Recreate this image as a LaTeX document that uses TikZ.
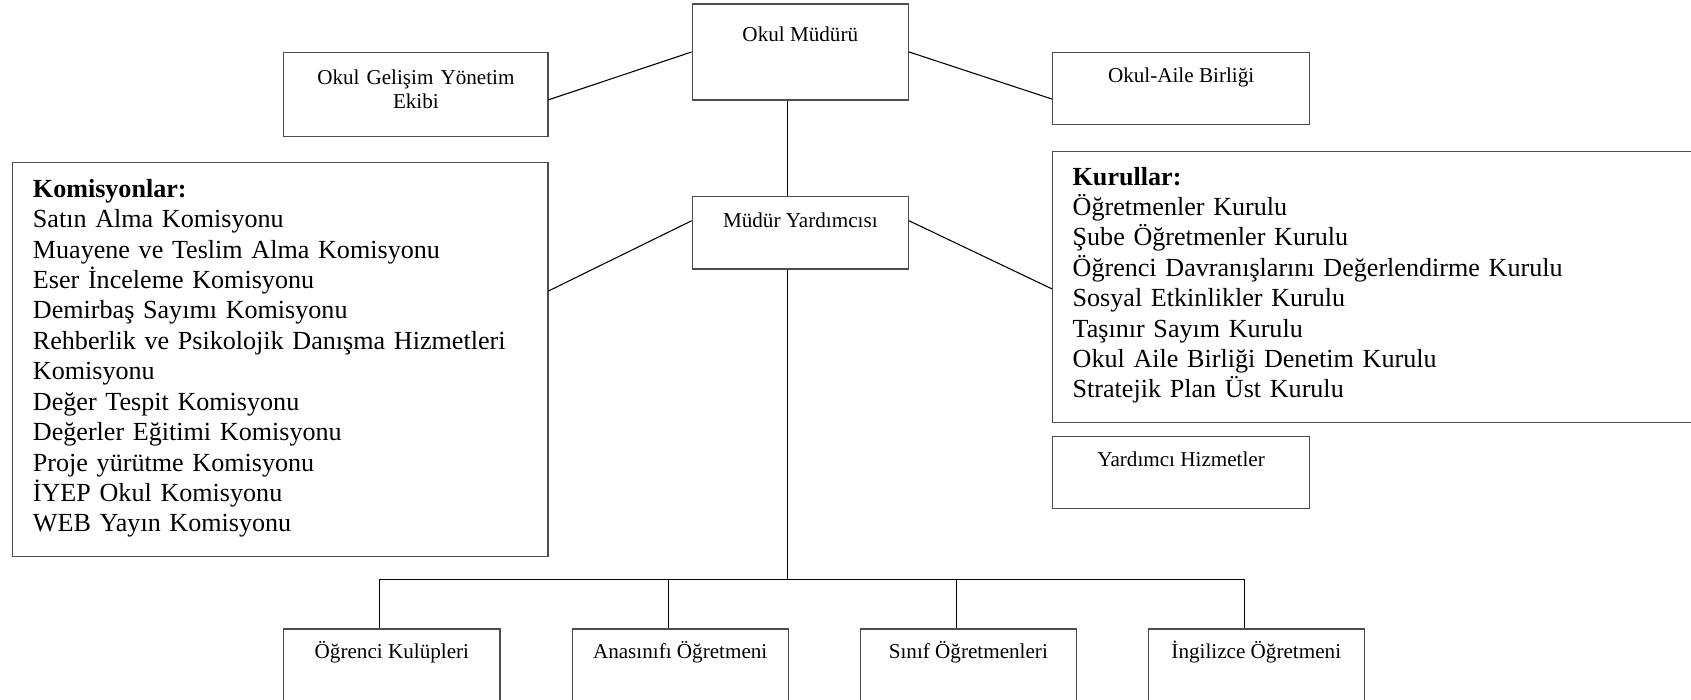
\documentclass[tikz,border=0pt]{standalone}
\usepackage{fontspec}
\setmainfont{Liberation Serif}
\newcommand{\boxfont}{\fontsize{19.6pt}{22pt}\selectfont}
\newcommand{\listfont}{\fontsize{24.2pt}{28.2pt}\selectfont}

\begin{document}
\begin{tikzpicture}
  [x=1pt, y=-1pt,
   unit/.style = {draw=black!70, line width=1.1pt, inner sep=0pt,
                  anchor=north west, font=\boxfont},
   roster/.style = {unit, font=\listfont, align=left, inner xsep=18.6pt},
   link/.style = {line width=1pt}]

\useasboundingbox (0,0) rectangle (1568,649);
\clip (0,0) rectangle (1568,649);

% Top row
\node[unit, minimum width=200.3pt, text height=35pt, text depth=54pt]
  (head) at (641.4,3.1) {Okul Müdürü};
\node[unit, text width=244.8pt, align=center, text height=30.1pt, text depth=48.1pt]
  (team) at (262.7,47.9) {Okul Gelişim Yönetim\\Ekibi};
\node[unit, minimum width=238.3pt, text height=27.8pt, text depth=39pt]
  (family) at (975.5,47.9) {Okul-Aile Birliği};

% Middle row
\node[unit, minimum width=200.3pt, text height=28.8pt, text depth=38.6pt]
  (deputy) at (641.4,181.4) {Müdür Yardımcısı};
\node[roster, text width=458.9pt, text height=31.9pt, text depth=333.2pt]
  (commissions) at (11.4,150.5)
  {\textbf{Komisyonlar:}\\
   Satın Alma Komisyonu\\
   Muayene ve Teslim Alma Komisyonu\\
   Eser İnceleme Komisyonu\\
   Demirbaş Sayımı Komisyonu\\
   Rehberlik ve Psikolojik Danışma Hizmetleri\\
   Komisyonu\\
   Değer Tespit Komisyonu\\
   Değerler Eğitimi Komisyonu\\
   Proje yürütme Komisyonu\\
   İYEP Okul Komisyonu\\
   WEB Yayın Komisyonu};
\node[roster, text width=700pt, text height=31.3pt, text depth=220pt]
  (councils) at (975.5,139.7)
  {\textbf{Kurullar:}\\
   Öğretmenler Kurulu\\
   Şube Öğretmenler Kurulu\\
   Öğrenci Davranışlarını Değerlendirme Kurulu\\
   Sosyal Etkinlikler Kurulu\\
   Taşınır Sayım Kurulu\\
   Okul Aile Birliği Denetim Kurulu\\
   Stratejik Plan Üst Kurulu};
\node[unit, minimum width=238.3pt, text height=28pt, text depth=39pt]
  (support) at (975.5,404) {Yardımcı Hizmetler};

% Bottom row
\node[unit, minimum width=200.3pt, text height=27.8pt, text depth=80pt]
  (clubs) at (262.7,582.7) {Öğrenci Kulüpleri};
\node[unit, minimum width=200.3pt, text height=27.8pt, text depth=80pt]
  (preschool) at (530,582.7) {Anasınıfı Öğretmeni};
\node[unit, minimum width=200.3pt, text height=27.8pt, text depth=80pt]
  (classroom) at (797.2,582.7) {Sınıf Öğretmenleri};
\node[unit, minimum width=200.3pt, text height=27.8pt, text depth=80pt]
  (english) at (1064.2,582.7) {İngilizce Öğretmeni};

% Links
\coordinate (trunk) at (730.1,0);
\coordinate (hub) at (730.1,537.5);

\draw[link] (head.west) -- ([yshift=-5]team.east);
\draw[link] (head.east) -- ([yshift=-10]family.west);
\draw[link] (head.south -| trunk) -- (deputy.north -| trunk);

\draw[link] ([yshift=11]deputy.west) -- ([yshift=-119.3]commissions.north east);
\draw[link] ([yshift=11]deputy.east) -- ([yshift=-2]councils.west);

\draw[link] (deputy.south -| trunk) -- (hub);
\draw[link] ([xshift=-11.2]clubs.north) |- (hub) -| ([xshift=-11.2]english.north);
\foreach \staff in {preschool, classroom}
  \draw[link] ([xshift=-11.2]\staff.north) -- ([xshift=-11.2]\staff.north |- hub);

\end{tikzpicture}
\end{document}
